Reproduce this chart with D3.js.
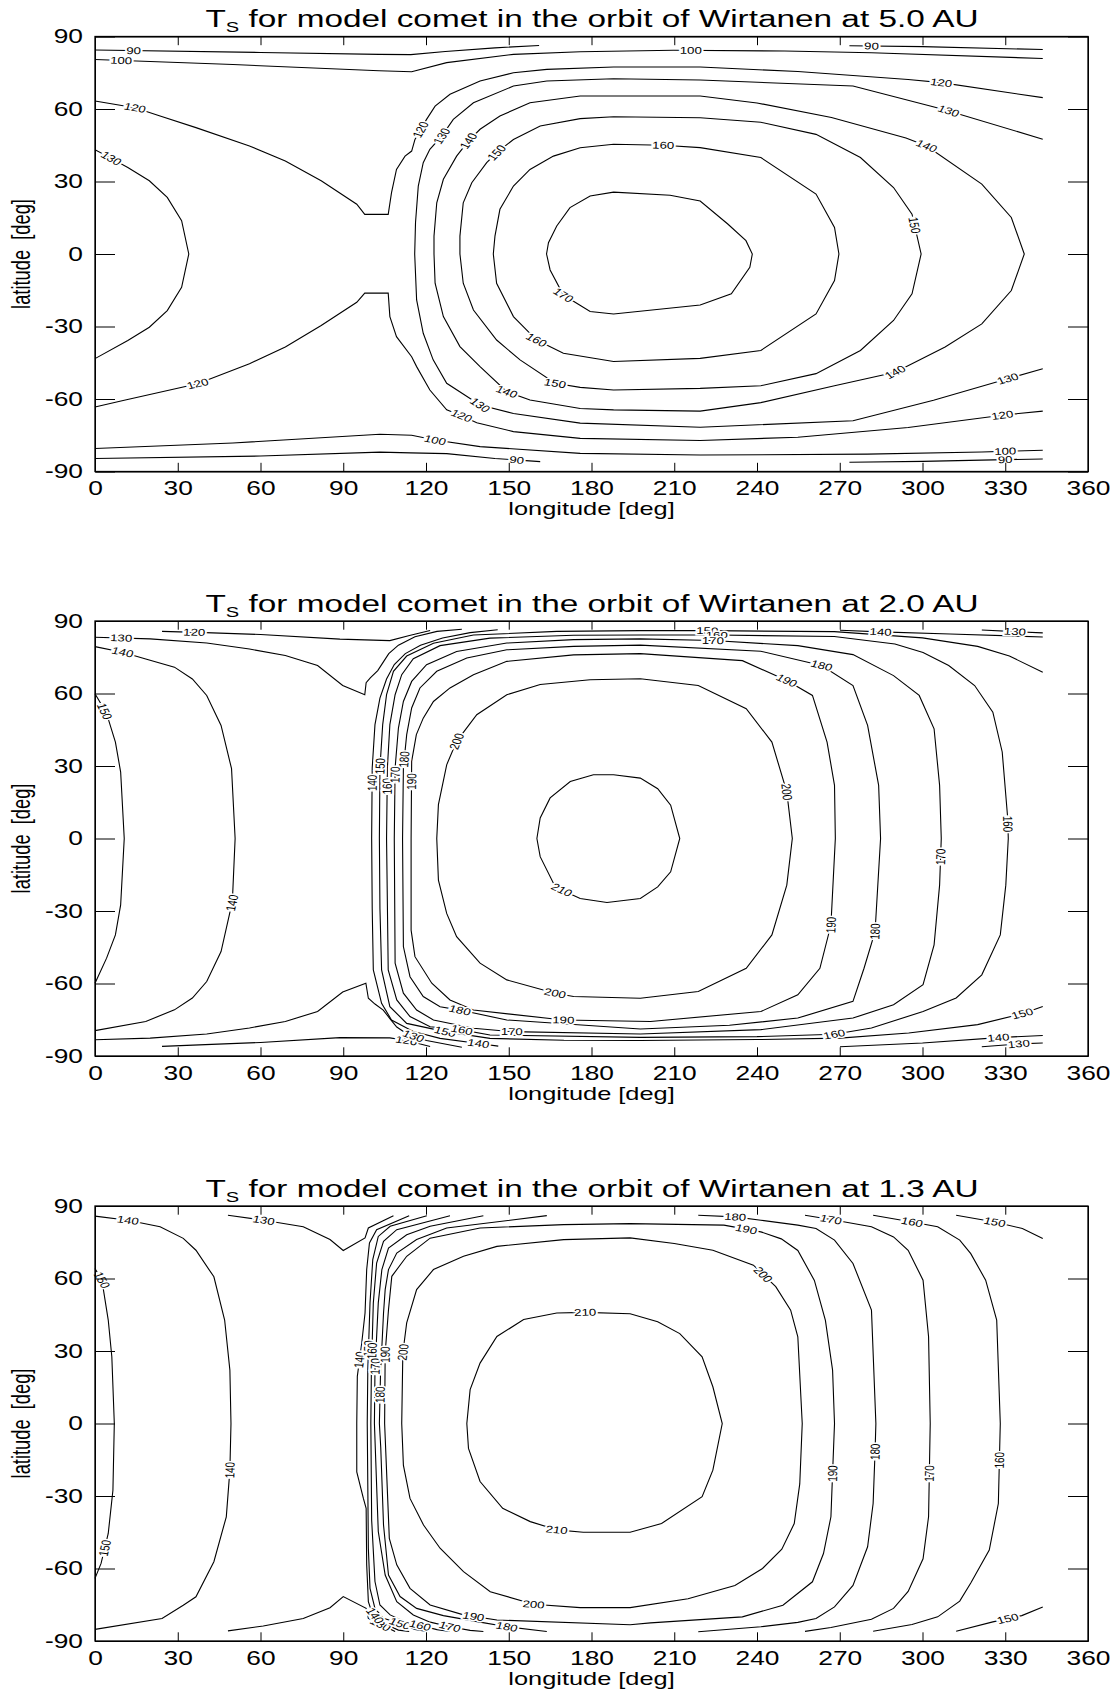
<!DOCTYPE html>
<html>
<head>
<meta charset="utf-8">
<script src="https://cdn.jsdelivr.net/npm/d3@7"></script>
<style>
body { margin: 0; background: #fff; }
svg { display: block; font-family: "Liberation Sans", Arial, Helvetica, sans-serif; }
</style>
</head>
<body>
<svg width="1116" height="1695"></svg>
<script>
var lonTicks = d3.range(0, 361, 30);
var latTicks = d3.range(-90, 91, 30);
var distances = ["5.0", "2.0", "1.3"];

// ---- 5.0 AU : contour lines as [lon, lat] ----
var t5_90a = [[0,84.4],[60,83.4],[103,82.6],[114.5,82.5],[127,83.8],[145,85.3],[161,86.3]];
var t5_90b = [[273.5,86.2],[300,85.8],[343.6,84.6]];
var t5_90c = [[0,-84.6],[60,-83.6],[103.3,-82],[114.4,-82.3],[127.5,-82.6],[145,-84.6],[161.4,-85.9]];
var t5_90d = [[273.5,-86.2],[300,-85.8],[330,-85.1],[343.6,-84.8]];
var t5_100a = [[0,80.5],[50,78.4],[103,75.8],[114.8,75.4],[127.5,79.2],[151.7,82.6],[175.9,83.7],[209.7,84.3],[250,84],[281.5,83.3],[343.6,80.9]];
var t5_100b = [[0,-80.5],[50,-78.2],[103.3,-74.6],[114.8,-75],[123.3,-77],[139.6,-79.7],[175.9,-82.5],[219.4,-83.2],[280,-82.8],[321.5,-81.9],[343.6,-81.2]];
var t5_120a = [[0,63.3],[14.5,60.5],[23.6,57.1],[36.6,52.3],[56,44.7],[69,38.5],[82,30.3],[94.9,20.6],[97.8,16.4],[106.3,16.4],[107.5,25.4],[109.3,35],[112.4,40.5],[114.8,42.6],[116,47.4],[120.2,55.7],[123.3,61.2],[128.7,66.1],[139.6,71.6],[151.7,75],[163.8,76.4],[188,77.4],[219.4,77.4],[254.8,75.5],[294.8,72.2],[306.8,70.9],[343.6,64.7]];
var t5_120b = [[0,-63.3],[10.6,-60.5],[37.2,-53.7],[56,-45.4],[69,-38.5],[82,-29.6],[94.9,-20],[97.8,-16.2],[106.3,-16.2],[106.9,-25.9],[109.3,-34.2],[114.8,-42.5],[116.6,-46.6],[121.4,-56.3],[127.5,-64.5],[132.9,-66.9],[138.4,-69.8],[151.7,-73.5],[175.9,-76.3],[219.4,-77.2],[254.8,-75.8],[294.8,-71.8],[328.9,-66.7],[343.6,-65]];
var t5_130a = [[0,43.1],[4.2,40.6],[11.9,35.8],[19.7,30.3],[26.2,23.4],[31.4,13.8],[34,0],[31.4,-13.8],[26.2,-23.4],[19.7,-30.3],[11.9,-35.8],[0,-43.3]];
var t5_130b = [[343.6,47.5],[309.5,59.2],[304.2,60.8],[274.8,69.5],[219.4,72],[188,72.5],[163.8,71.6],[151.7,69.5],[137.2,62.6],[129.9,55.7],[125.7,48.8],[121.4,43.3],[119,37.8],[117.2,28.1],[116.2,13],[115.9,0],[116.6,-19],[119,-32.8],[122.6,-43.8],[127.5,-53.5],[139.6,-62.5],[151.7,-66],[175.9,-70],[219.4,-71.7],[274.8,-69],[304,-60.5],[330.9,-51.6],[343.6,-47.5]];
var t5_140 = [[122.9,0],[122.9,7.4],[123.9,21.2],[126.3,30.9],[131.1,40.5],[135.4,46.8],[139.6,51.6],[146.8,57.1],[157.7,62.6],[175.9,65.4],[219.4,65.4],[240,62.5],[267,56.5],[294,48],[301.5,44.7],[321.5,28.9],[332.2,15.1],[336.9,0],[332.2,-15.1],[321.5,-28.9],[308.2,-38.5],[290.1,-48.9],[268.1,-54.5],[241.4,-61.5],[219.4,-65],[188,-64.5],[175.9,-63.9],[157.7,-60.4],[149.3,-57],[139.6,-46.6],[132.3,-38.3],[126.3,-25.9],[123.3,-12.1],[122.9,0]];
var t5_150 = [[132.3,0],[132.3,7.4],[133.5,21.2],[136.6,29.5],[142,37.8],[145.6,41.9],[151.7,47.4],[161.4,53],[175.9,56],[188,56.8],[219.4,56.4],[241.4,54.5],[261.4,49.5],[277.5,39.9],[289.5,27.5],[296.2,16.5],[299.5,0],[296.2,-16.5],[289.5,-27.5],[277.5,-39.9],[261.4,-49.5],[241.4,-54.5],[219.4,-55.6],[188,-56.3],[175.9,-55.2],[166.8,-53.5],[154.1,-43.8],[145.6,-35.6],[137.2,-23.2],[133.5,-12.1],[132.3,0]];
var t5_160 = [[144.4,0],[145,7.4],[146.8,18.5],[151.7,28.1],[157.7,35],[166.2,40.5],[175.9,44],[188,45.4],[206,45],[219.4,44],[241.4,39.9],[261.4,24.8],[268.1,11],[269.7,0],[268.1,-11],[261.4,-24.8],[241.4,-39.9],[219.4,-43.2],[188,-44.5],[169.8,-41.1],[160.1,-35.6],[151.7,-25.9],[145.6,-12.1],[144.4,0]];
var t5_170 = [[163.7,0],[164.4,4.7],[167.4,11.6],[172.2,19.2],[179.5,24],[188,25.6],[208.5,24.3],[219.4,21.9],[229.4,12.4],[236,5.5],[238.3,0],[237.4,-5.5],[230.7,-16.5],[219.4,-21.1],[188,-24.8],[179.5,-23.8],[169.8,-17],[165,-6.6],[163.7,0]];
// label spots [lon, lat, level]
var lab5 = [[14,84,90],[281.5,85.9,90],[152.9,-85,90],[330,-85,90],
  [9.5,80.3,100],[216,84.2,100],[123.3,-77,100],[330,-81.5,100],
  [14.5,60.5,120],[117.8,51.6,120],[306.8,70.9,120],[37.2,-53.7,120],[132.9,-66.9,120],[328.9,-66.7,120],
  [5.4,38.5,130],[125.7,48.8,130],[309.5,59.2,130],[139.6,-62.5,130],[330.9,-51.6,130],
  [135.4,46.8,140],[301.5,44.7,140],[149.3,-57,140],[290.1,-48.9,140],
  [145.6,41.9,150],[297.5,12,150],[166.8,-53.5,150],
  [206,45,160],[160.1,-35.6,160],
  [169.8,-17,170]];

// ---- 2.0 AU ----
var t2_120a = [[24.3,85.7],[40,85.2],[60,84.4],[88.8,82.5],[106.9,81.9],[114,84],[121.5,86.1]];
var t2_120b = [[24.3,-86],[40,-85.3],[60,-84.4],[88.8,-82.4],[106.9,-82.5],[113,-83.6],[121.5,-86.1]];
var t2_130a = [[0,83.3],[20,82.6],[40.5,80.9],[56,78.4],[69,75.7],[80.7,71.6],[89.8,63.3],[97.8,59.5],[98.3,64.5],[99.8,66.5],[102.5,69.5],[104.5,73],[106.5,76.5],[110,80],[116,83.5],[124,85.7],[133,86.6]];
var t2_130b = [[0,-83.3],[20,-82.6],[40.5,-80.9],[56,-78.4],[69,-75.7],[80.7,-71.6],[89.8,-63.5],[98.2,-59.9],[99.1,-66.1],[101.5,-68.5],[104.5,-71],[106.9,-74.5],[109.4,-78],[113,-80.8],[120.2,-83.6],[133,-86.4]];
var t2_130c = [[321.5,86.3],[333.5,85.6],[343.6,85.1]];
var t2_130d = [[321.5,-86.2],[334.9,-85],[343.6,-84.6]];
var t2_140a = [[0,79.4],[10,77.1],[18.4,74.3],[28.8,70.9],[35.3,66],[40.5,59.2],[45.7,46.8],[49.5,28.9],[50.8,0],[49.8,-26],[45.7,-46.8],[40.5,-59.2],[35.3,-66],[28.8,-70.9],[18.4,-75.7],[0,-79.5]];
var t2_140b = [[146,86.4],[136,85.2],[126,83],[118,80],[112.5,76.5],[108.5,72],[105.7,66],[103.3,58.1],[101.5,47.1],[100.5,29.2],[100.3,0],[100.5,-29],[100.9,-54.4],[103.9,-68.2],[107.5,-75.1],[115.4,-79.9],[125.1,-82.7],[139,-84.8],[146.2,-85.9]];
var t2_140c = [[270.1,86.2],[284.8,85.5],[310,84.6],[343.6,83.4]];
var t2_140d = [[270.1,-86.2],[300,-84.6],[327.5,-82.4],[343.6,-81.5]];
var t2_150a = [[0,59.9],[2.2,55.7],[4.8,49.5],[7.4,39.9],[9.3,27.5],[10.6,0],[9.3,-27.5],[7.4,-39.9],[4.2,-49.5],[0,-59.9]];
var t2_150b = [[343.6,68.8],[331.5,75.5],[320,79.5],[300,83],[268,85.6],[222,86],[197.7,86],[167.4,85.7],[137.2,84.2],[122.7,80.8],[113,75.5],[108.2,69.2],[105.7,59.5],[104.3,47.1],[103.3,29.2],[103.1,0],[103.3,-29],[103.9,-54.4],[106.9,-69.6],[113,-76.5],[126.9,-79.9],[143.2,-82.7],[170,-83.5],[197.7,-83.6],[240,-83.2],[270,-82.6],[295,-80.5],[320,-77],[336.2,-72.5],[343.6,-69.5]];
var t2_160 = [[105.7,0],[106,29.2],[106.9,47.1],[108.8,59.5],[111.2,67.8],[115.4,74.4],[125.1,79.8],[143.2,82.9],[173.5,84.1],[197.7,84.2],[225.4,84.2],[268,83.6],[290,80.5],[300.2,77],[309.5,71.6],[318.9,63.3],[325.5,52.3],[328.9,35.8],[330.9,8.3],[331.1,0],[330.2,-19.3],[328.2,-39.9],[321.5,-56.4],[312.2,-66],[300.2,-71.6],[281.5,-78.4],[268,-81],[240,-82],[197.7,-82.3],[143.2,-81.3],[133,-79.2],[121.5,-77.9],[114.2,-73.7],[109.4,-66.8],[106.3,-54.4],[105.7,0]];
var t2_170 = [[108.5,0],[108.8,29.2],[110,45.7],[111.8,56.7],[114.8,65],[120.2,71.9],[131.1,77.4],[149.3,80.9],[173.5,82.3],[197.7,82.6],[224,81.9],[254.8,79.8],[274.8,76.1],[289.5,67.4],[298.8,59.2],[304.2,45.4],[306.2,22],[306.8,0],[306.2,-19.3],[304.2,-44],[300.2,-60.5],[289.5,-68.8],[274.8,-74.3],[241.4,-79.1],[197.7,-80.9],[151.1,-79.9],[137.2,-78.5],[122.7,-75.1],[116.6,-71],[111.8,-64],[108.8,-51.6],[108.5,0]];
var t2_180 = [[111.5,0],[111.8,29.2],[113,43],[114.8,54],[117.8,62.3],[123.9,69.2],[134.8,74.7],[149.3,78.1],[173.5,79.5],[197.7,80],[241.4,77.5],[263.4,71.6],[274.8,63.3],[280.1,46.8],[284.1,22],[284.8,0],[282.8,-38.5],[278.8,-53.7],[274.8,-67.4],[254.8,-74.3],[230,-77.3],[197.7,-78.8],[149.3,-75.1],[132.3,-71],[125.1,-69.6],[119,-65.4],[114.2,-57.2],[111.8,-44.7],[111.5,0]];
var t2_190 = [[114.6,0],[114.8,31.9],[116.5,43],[119,49.8],[122.7,56.7],[128.7,62.3],[137.2,67.8],[149.3,73.3],[173.5,76],[197.7,76.5],[234.7,73.6],[250.8,65.4],[260.1,59.2],[265.4,39.9],[268.1,22],[268.4,0],[266.8,-35.8],[262.8,-53.7],[254.8,-64.7],[241.4,-71.6],[201.4,-75.7],[169.8,-75.1],[137.2,-71],[128.7,-66.8],[122.1,-59.9],[116,-48.9],[114.6,-37.9],[114.6,0]];
var t2_200 = [[123.9,0],[124.5,14],[127.5,30.5],[131.1,40.2],[138.4,51.2],[149.3,59.5],[161.4,63.7],[179.5,65.7],[197.7,66.1],[218.7,63.3],[236.1,53.7],[245.4,39.9],[250.8,19.3],[252.8,0],[250.8,-19.3],[245.4,-39.9],[236.1,-53.7],[218.7,-63.3],[197.7,-66.1],[173.5,-65.4],[166.8,-64],[149.3,-58.5],[139.6,-51.6],[131.1,-40.6],[127.5,-31],[124.5,-17.2],[123.9,0]];
var t2_210 = [[160.2,0],[161.4,8.5],[165,16.8],[172.3,23.6],[180.7,26.4],[188,26.4],[197.7,25],[204,20.6],[208.7,13.8],[212,0],[208.7,-13.8],[204,-20],[197.7,-24.8],[185.6,-26.5],[175.9,-24.8],[169.2,-21.3],[166.2,-18.5],[161.4,-7.5],[160.2,0]];
var lab2 = [[36,85.3,120],[113,-83.3,120],
  [9.5,83,130],[333.5,85.6,130],[115.4,-82,130],[334.9,-85,130],
  [10,77.1,140],[50.2,-26.8,140],[100.1,23,140],[284.8,85.5,140],[139,-84.8,140],[327.5,-82.4,140],
  [2.9,52.3,150],[103.7,29.9,150],[222,86,150],[126.9,-79.9,150],[336.2,-72.5,150],
  [106.3,21.6,160],[225.4,84.2,160],[330.9,6,160],[133,-79.2,160],[268,-81,160],
  [109.4,26.4,170],[224,81.9,170],[306.8,-7.6,170],[151.1,-79.9,170],
  [113,32.6,180],[263.4,71.6,180],[282.8,-38.5,180],[132.3,-71,180],
  [116,23.6,190],[250.8,65.4,190],[266.8,-35.8,190],[169.8,-75.1,190],
  [131.1,40.2,200],[251,19.3,200],[166.8,-64,200],
  [169.2,-21.3,210]];

// ---- 1.3 AU ----
var t1_130a = [[48.2,86.2],[61.2,84.1],[75.5,81.4],[85.2,76.1],[90,71.6],[97.9,76.8],[99.1,80.9],[108.2,86]];
var t1_130b = [[48.2,-85.8],[61,-83.8],[75.5,-80.7],[85.2,-76.2],[90,-71.6],[98.3,-76.5],[99.1,-80.6],[108.8,-86.1]];
var t1_140a = [[0,85.8],[11.9,84.1],[23.6,81.4],[32,76.6],[36.6,71.7],[43.1,60.7],[47,42.8],[48.9,22.1],[49.3,0],[48.9,-19.3],[47.6,-38.6],[43.1,-57.2],[36.6,-71.7],[32,-75.2],[24.3,-80.7],[0,-85.2]];
var t1_140b = [[113.9,86],[102.1,80.2],[99.5,74.7],[98.5,63.7],[97.9,45.7],[96.7,33.3],[95.1,19.5],[94.9,0],[94.9,-20],[97.3,-31],[98.3,-35.1],[98.5,-58.5],[99.1,-73.7],[100.3,-77.9],[103.3,-82],[110,-85.5],[113.9,-86.1]];
var t1_150a = [[0,64.1],[2.5,59.3],[4.8,42.8],[6.1,27.6],[7,0],[6.5,-27.6],[4.8,-45.5],[2.2,-57.9],[0,-64.1]];
var t1_150b = [[120.3,86],[107,81.6],[102.7,77.4],[100.7,67.8],[99.7,49.9],[98.9,22.3],[98.7,0],[99.1,-51.6],[99.7,-68.2],[101.5,-76.5],[104.6,-80.6],[110.6,-82.8],[116,-85.2],[120.3,-86]];
var t1_150c = [[312.2,86.2],[326.2,83.4],[336.2,80.7],[343.6,76.6]];
var t1_150d = [[312.2,-86],[325.5,-82.1],[336,-79.5],[343.6,-75.9]];
var t1_160a = [[128.7,86],[109.4,80.2],[104.6,75.4],[102.1,66.4],[100.9,49.9],[100.2,22],[100,0],[100.3,-40],[101.5,-65.4],[103.3,-75.1],[107,-79.2],[113,-82.3],[117.9,-83.6],[124,-85.3],[128.7,-86]];
var t1_160b = [[282.1,86.2],[296.2,83.4],[305.5,81.4],[313.5,75.9],[317.5,70.3],[322.9,59.3],[326.9,42.8],[328.2,0],[327.5,-33.1],[324.2,-52.4],[317.5,-66],[313.5,-73.5],[305.5,-80],[296.2,-83.2],[282.1,-86]];
var t1_170a = [[140.8,86],[121.5,81.6],[113,78.1],[106.4,72.6],[104,63.7],[102.7,49.9],[101.5,22],[101.3,0],[102.7,-44.7],[105.2,-62.7],[109.4,-73.7],[115.4,-79.2],[121.5,-82.2],[128.7,-84.1],[136,-85.6],[140.8,-86.1]];
var t1_170b = [[257.4,86.2],[266.8,84.4],[281.5,81.4],[289.5,77.2],[294.8,71.7],[300.2,59.3],[302.2,35.9],[302.8,0],[302.2,-38.6],[300.2,-56],[294.8,-69.5],[289.5,-76.5],[281.5,-81],[266.8,-84.4],[257.4,-86]];
var t1_180a = [[163.8,86],[127.5,80.9],[116.6,76.1],[109.4,70.5],[106.4,63.7],[105.2,55.4],[104.6,45.7],[103.5,20],[103.1,0],[103.6,-10],[104.6,-42],[106.4,-62.7],[110.6,-71.6],[116.6,-76.5],[126.3,-79.5],[139.6,-82.2],[149.3,-84.1],[163.8,-86.1]];
var t1_180b = [[218.7,86.2],[232.1,85.5],[241.4,84.1],[254.8,82.1],[261.4,80.7],[268.1,75.9],[274.8,66.2],[281.5,46.9],[283.1,0],[282.8,-11.7],[282.1,-33.1],[280.1,-51],[274.8,-67],[268.1,-75.9],[261.4,-80.7],[254.8,-82.3],[241.4,-84.1],[218.7,-86.2]];
var t1_190 = [[105,0],[105.2,29.2],[106.4,47.1],[107.6,60.9],[113,69.2],[121.5,76.7],[139.6,80.9],[169.9,82.3],[194,82.7],[228,82.1],[241.4,79.3],[248.8,76.4],[254.8,71.6],[260.8,59.2],[264.8,42.7],[267.4,22.1],[268.1,0],[267.4,-20.7],[266.8,-38.6],[264.1,-53.8],[260.1,-65.5],[249.4,-75.2],[234.7,-80],[201.4,-82.5],[194,-83.3],[145.7,-81.3],[133.6,-79.2],[121.5,-75.1],[114.2,-68.2],[109.4,-58.5],[106.7,-47.5],[105,0]];
var t1_200 = [[111.2,0],[111.6,29.2],[113,41.6],[116.6,55.4],[122.7,63.7],[133.6,69.2],[145.7,73.3],[169.9,76.1],[194,76.8],[210,74.5],[224,71.7],[238.7,65.5],[246.8,56.6],[252.2,46.9],[254.8,35.9],[256.4,0],[255.5,-25],[253.5,-41.4],[249,-52],[242,-60],[232,-67],[215,-72.5],[194,-76.2],[175.9,-76.2],[159,-74.8],[143.3,-69.6],[133.6,-61.3],[125.1,-51.6],[119.1,-42],[114.2,-31],[111.8,-17.2],[111.2,0]];
var t1_210 = [[134.8,0],[136,14],[139.6,25],[145.7,36],[155.4,43],[167.4,45.7],[177.7,46],[194,45.4],[204,42.1],[212,37.2],[220.1,27.6],[224,15.2],[227.4,0],[224,-19.3],[220.1,-30.3],[205.4,-41.4],[194,-45],[177,-45],[167.4,-44],[157.8,-40.6],[147.8,-35.1],[139.6,-24],[135.4,-10.3],[134.8,0]];
var lab1 = [[61.2,84.1,130],[103.5,-83.2,130],
  [11.9,84.1,140],[48.9,-19.3,140],[95.8,26.4,140],[101.5,-79.5,140],
  [2.5,59.3,150],[4.2,-51.7,150],[99.3,31,150],[326.2,83.4,150],[110.6,-82.8,150],[330.9,-80.8,150],
  [100.5,30,160],[296.2,83.4,160],[328.2,-15.2,160],[117.9,-83.6,160],
  [102,23.6,170],[266.8,84.4,170],[302.8,-20.7,170],[128.7,-84.1,170],
  [104,11.9,180],[232.1,85.5,180],[282.8,-11.7,180],[149.3,-84.1,180],
  [105.6,28.5,190],[236.1,80.5,190],[267.4,-20.7,190],[137.2,-79.8,190],
  [113.6,29.2,200],[242.1,61.5,200],[159,-74.8,200],
  [177.7,46,210],[167.4,-44,210]];

var panels = [
  { dist: distances[0], labels: lab5, lines: [
    {lev:90,pts:t5_90a},{lev:90,pts:t5_90b},{lev:90,pts:t5_90c},{lev:90,pts:t5_90d},
    {lev:100,pts:t5_100a},{lev:100,pts:t5_100b},{lev:120,pts:t5_120a},{lev:120,pts:t5_120b},
    {lev:130,pts:t5_130a},{lev:130,pts:t5_130b},{lev:140,pts:t5_140},{lev:150,pts:t5_150},
    {lev:160,pts:t5_160},{lev:170,pts:t5_170}] },
  { dist: distances[1], labels: lab2, lines: [
    {lev:120,pts:t2_120a},{lev:120,pts:t2_120b},{lev:130,pts:t2_130a},{lev:130,pts:t2_130b},
    {lev:130,pts:t2_130c},{lev:130,pts:t2_130d},{lev:140,pts:t2_140a},{lev:140,pts:t2_140b},
    {lev:140,pts:t2_140c},{lev:140,pts:t2_140d},{lev:150,pts:t2_150a},{lev:150,pts:t2_150b},
    {lev:160,pts:t2_160},{lev:170,pts:t2_170},{lev:180,pts:t2_180},{lev:190,pts:t2_190},
    {lev:200,pts:t2_200},{lev:210,pts:t2_210}] },
  { dist: distances[2], labels: lab1, lines: [
    {lev:130,pts:t1_130a},{lev:130,pts:t1_130b},{lev:140,pts:t1_140a},{lev:140,pts:t1_140b},
    {lev:150,pts:t1_150a},{lev:150,pts:t1_150b},{lev:150,pts:t1_150c},{lev:150,pts:t1_150d},
    {lev:160,pts:t1_160a},{lev:160,pts:t1_160b},{lev:170,pts:t1_170a},{lev:170,pts:t1_170b},
    {lev:180,pts:t1_180a},{lev:180,pts:t1_180b},{lev:190,pts:t1_190},{lev:200,pts:t1_200},
    {lev:210,pts:t1_210}] }
];

var svg = d3.select("svg");
var plotLeft = 95, plotRight = 1088, plotH = 435;
var tops = [36.5, 621, 1206];
var SX = 1.35;   // the original is stretched sideways
var x = d3.scaleLinear().domain([0, 360]).range([plotLeft, plotRight]);

function labelSpot(lab, lines, y) {
  var px = x(lab[0]), py = y(lab[1]), best = null;
  lines.forEach(function(c) {
    if (c.lev !== lab[2]) return;
    for (var k = 0; k < c.pts.length - 1; k++) {
      var ax = x(c.pts[k][0]), ay = y(c.pts[k][1]);
      var bx = x(c.pts[k + 1][0]), by = y(c.pts[k + 1][1]);
      var dx = bx - ax, dy = by - ay, L = dx * dx + dy * dy;
      var t = L ? Math.max(0, Math.min(1, ((px - ax) * dx + (py - ay) * dy) / L)) : 0;
      var qx = ax + t * dx, qy = ay + t * dy;
      var d = (qx - px) * (qx - px) + (qy - py) * (qy - py);
      if (!best || d < best.d) best = {d: d, x: qx, y: qy, dx: dx, dy: dy};
    }
  });
  var a = Math.atan2(best.dy, best.dx / SX) * 180 / Math.PI;
  if (a >= 90) a -= 180;
  if (a < -90) a += 180;
  best.a = a;
  return best;
}

panels.forEach(function(p, i) {
  var top = tops[i];
  var y = d3.scaleLinear().domain([-90, 90]).range([top + plotH, top]);
  var g = svg.append("g");

  var line = d3.line().x(function(d) { return x(d[0]); }).y(function(d) { return y(d[1]); });

  g.append("g").selectAll("path")
    .data(p.lines)
    .enter().append("path")
    .attr("d", function(d) { return line(d.pts); })
    .attr("fill", "none")
    .attr("stroke", "#000")
    .attr("stroke-width", 1.1);

  var lg = g.append("g");
  p.labels.forEach(function(lab) {
    var s = labelSpot(lab, p.lines, y);
    lg.append("text")
      .attr("transform", "translate(" + s.x + "," + s.y + ") scale(" + SX + ",1) rotate(" + s.a + ")")
      .attr("text-anchor", "middle")
      .attr("dy", "0.35em")
      .attr("font-size", 9.8)
      .attr("fill", "#000")
      .attr("stroke", "#fff")
      .attr("stroke-width", 3)
      .attr("paint-order", "stroke")
      .text(lab[2]);
  });

  // axes, IDL style: ticks inside on all four sides
  var font = "Liberation Sans, Arial, Helvetica, sans-serif";
  var plain = function(d) { return String(d); };
  var gb = g.append("g")
    .attr("transform", "translate(0," + (top + plotH) + ")")
    .call(d3.axisBottom(x).tickValues(lonTicks).tickSizeInner(-8.7).tickSizeOuter(0).tickPadding(10).tickFormat(plain))
    .attr("font-size", 19.5).attr("font-family", font);
  gb.selectAll(".tick text").attr("fill", "#000").attr("transform", "scale(" + SX + ",1)");

  var gl = g.append("g")
    .attr("transform", "translate(" + plotLeft + ",0)")
    .call(d3.axisLeft(y).tickValues(latTicks).tickSizeInner(-20).tickSizeOuter(0).tickPadding(12).tickFormat(plain))
    .attr("font-size", 19.5).attr("font-family", font);
  gl.selectAll(".tick text").attr("fill", "#000").attr("transform", "translate(-12,0) scale(" + SX + ",1) translate(12,0)");

  g.append("g")
    .attr("transform", "translate(0," + top + ")")
    .call(d3.axisTop(x).tickValues(lonTicks).tickSizeInner(-8.7).tickSizeOuter(0).tickFormat(""));
  g.append("g")
    .attr("transform", "translate(" + plotRight + ",0)")
    .call(d3.axisRight(y).tickValues(latTicks).tickSizeInner(-20).tickSizeOuter(0).tickFormat(""));

  g.selectAll(".tick line, .domain").attr("stroke", "#000");

  g.append("rect")
    .attr("x", plotLeft).attr("y", top)
    .attr("width", plotRight - plotLeft).attr("height", plotH)
    .attr("fill", "none").attr("stroke", "#000").attr("stroke-width", 1.3);

  // title
  var title = g.append("text")
    .attr("x", 205.5).attr("y", top - 9.5)
    .attr("font-size", 23.3)
    .attr("textLength", 773)
    .attr("lengthAdjust", "spacingAndGlyphs");
  title.append("tspan").text("T");
  title.append("tspan").attr("font-size", 14).attr("dy", 5).text("S");
  title.append("tspan").attr("dy", -5).text(" for model comet in the orbit of Wirtanen at " + p.dist + " AU");

  // axis titles
  g.append("text")
    .attr("transform", "translate(" + ((plotLeft + plotRight) / 2) + "," + (top + plotH + 43.5) + ") scale(1.45,1)")
    .attr("text-anchor", "middle")
    .attr("font-size", 17.5)
    .text("longitude [deg]");
  g.append("text")
    .attr("transform", "translate(30," + (top + plotH / 2) + ") scale(1.4,1) rotate(-90)")
    .attr("text-anchor", "middle")
    .attr("font-size", 18.3)
    .style("white-space", "pre")
    .text("latitude  [deg]");
});
</script>
</body>
</html>
